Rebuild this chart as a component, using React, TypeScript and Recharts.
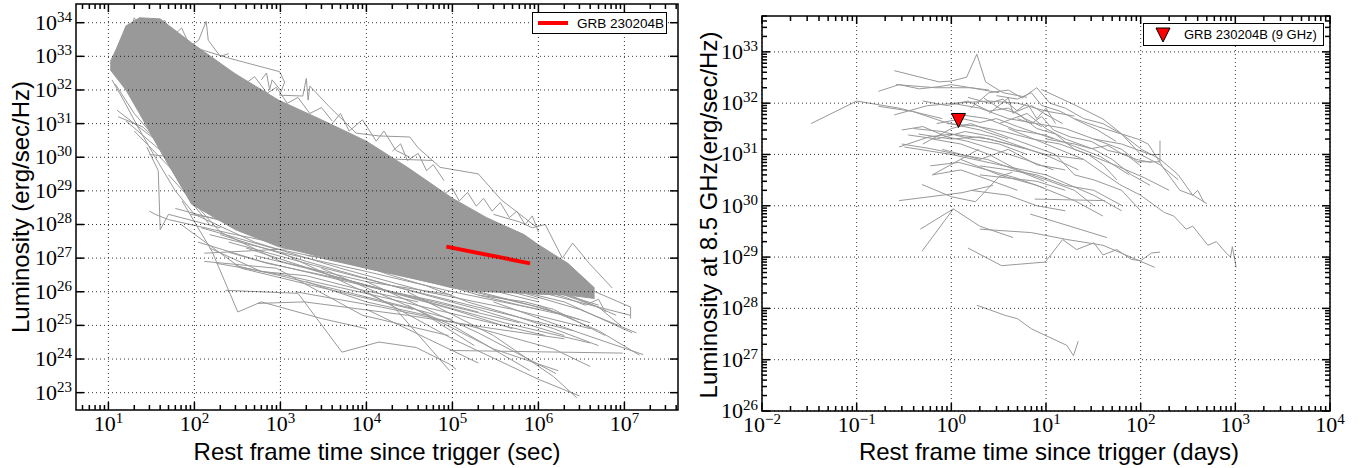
import React from 'react';
import {
  ComposedChart,
  Line,
  Area,
  Scatter,
  XAxis,
  YAxis,
  ReferenceLine,
  ReferenceArea,
  Legend,
} from 'recharts';

const GRAY = '#999999';
const SERIF = '"Liberation Serif", "DejaVu Serif", serif';
const SANS = '"Liberation Sans", Arial, sans-serif';

// ---------- left panel: X-ray light curves (rest frame, sec) ----------
// the dense part of the sample, drawn as one band (lower / upper edge)
const xrayCoreTime = [10.5, 16, 23, 40, 93, 300, 950, 3e3, 1e4, 3e4, 1e5, 2.5e5, 6.8e5, 1e6, 2.2e6, 4.5e6];
const xrayCoreHigh = [6e32, 8e33, 1.4e34, 1.3e34, 2.5e33, 3e32, 5e31, 1.3e31, 3e30, 5e29, 6e28, 1.6e28, 5e27, 2.5e27, 7e26, 1.3e26];
const xrayCoreLow = [4e32, 1e32, 2e31, 1.6e30, 4e28, 7e27, 2.2e27, 1.1e27, 5e26, 2.8e26, 1.3e26, 1e26, 9e25, 8.5e25, 8e25, 6.3e25];

// individual curves sticking out of the band: [t (s), L]
const xrayCurves: number[][][] = [
  [[18, 5e33], [20, 1.4e34], [24, 6e33], [28, 1.3e34], [35, 5e33], [45, 1.2e34], [56, 4e33], [71, 7e33], [89, 2e33], [112, 3e33], [137, 1.1e34], [145, 3e33], [200, 1e33], [250, 1.2e33]],
  [[95, 1.9e33], [257, 8.7e32], [980, 3.5e32], [1120, 1.7e32], [980, 7e31], [1820, 6.6e31], [2000, 2.2e32], [2100, 5e31], [2200, 1.3e32], [3700, 3.2e31], [7600, 5.2e30], [1.4e4, 4.3e30], [3.2e4, 4e30], [4e4, 1.9e30], [7.2e4, 5e29], [2e5, 3.2e29], [3.7e5, 5.4e28], [9.3e5, 8.7e27]],
  [[600, 2e32], [690, 3.2e32], [750, 1e32], [800, 2e32], [1000, 1e32]],
  [[300, 3e32], [400, 1.6e32], [500, 2.5e32], [700, 8e31], [900, 1.2e32], [1.2e3, 4e31], [1.6e3, 6e31], [2.2e3, 2e31], [3e3, 3e31], [4e3, 1.2e31]],
  [[9e3, 9.5e29], [6e4, 8e29]],
  [[8e4, 8e28], [1e5, 1.2e29], [1.2e5, 5e28], [1.5e5, 9e28], [1.9e5, 3.5e28], [2.3e5, 6e28], [2.9e5, 2.5e28], [3.6e5, 4.5e28], [4.6e5, 1.6e28], [5.6e5, 2.5e28], [7e5, 1e28], [8.5e5, 1.8e28], [1e6, 6e27]],
  [[4e3, 1e31], [5e3, 2e31], [6.3e3, 6e30], [9e3, 1.3e31], [1.3e4, 3e30], [1.6e4, 6e30], [2.2e4, 1.6e30], [3.2e4, 1e30]],
  [[2e4, 1.5e30], [2.5e4, 2.5e30], [3e4, 8e29], [4e4, 1.3e30], [5e4, 4e29], [6e4, 6e29], [8e4, 2e29]],
  [[3e5, 2e28], [6e5, 1.2e28], [8.5e5, 8e27], [1.2e6, 1e28], [1.9e6, 1e27], [2.5e6, 2.8e27], [3.9e6, 7e26], [7.2e6, 1.3e26]],
  [[1e6, 5e26], [3e6, 1.6e26], [1.18e7, 3.5e25], [1.18e7, 1.6e25]],
  [[3e5, 1.6e26], [2e6, 5e25], [1.23e7, 6e24]],
  [[1e6, 4e25], [5e6, 7e24], [1.5e7, 1.3e24]],
  [[9.3e4, 1.8e24], [9.5e6, 1.5e24]],
  [[3e4, 1e26], [3e5, 5e24], [1.5e6, 3e23], [2.8e6, 7e22]],
  [[1e4, 2e26], [2e5, 6e24], [1.6e6, 3.7e23]],
  [[3e3, 5e26], [1e5, 1e25], [8e5, 4.5e23]],
  [[1e3, 1.5e27], [2e4, 4e25], [9.3e4, 4.5e23]],
  [[230, 1.1e26], [1.6e3, 9e25], [5.2e3, 1.6e24], [1.4e4, 3.2e24], [3.8e4, 2.2e24], [9.3e4, 7e23], [1.1e5, 5e23]],
  [[540, 4.5e25], [1.9e3, 5e25], [3e4, 2e25], [3e5, 8e24], [2e6, 4e24]],
  [[130, 1.4e27], [1.9e3, 2e27], [1e4, 1e27], [1e5, 2e26]],
  [[72, 5e28], [160, 1.6e27], [320, 2.5e25], [600, 5e25], [3e3, 1.6e25], [1e4, 8e24]],
  [[28, 2e30], [38, 4e29], [40, 7e27], [50, 2e28], [200, 8e27]],
  [[30, 2.5e28], [35, 2e28], [50, 1.4e28], [300, 5e27], [3e3, 1.5e27]],
  [[12.6, 2.5e31], [32, 4e30], [100, 4e29], [1e3, 3e28]],
  [[16, 1.2e31], [50, 1e30], [300, 8e28]],
  [[20, 6e30], [63, 3e29], [200, 3e28]],
  [[30, 1.2e30], [63, 1e30], [100, 5e29]],
  [[50, 3e29], [200, 6e27], [1e3, 8e26], [1e4, 2e26], [1e5, 8e25]],
  [[3e5, 5e25], [3e6, 6e24], [1.66e7, 1.35e24]],
  [[6e5, 1e26], [3e6, 3e25], [1.38e7, 6e24]],
  [[1e5, 4e26], [1e6, 1e26], [1.17e7, 2e25]],
  [[3e4, 4e25], [3e5, 2e24], [1.7e6, 4.5e23]],
  [[1e4, 1e26], [1e5, 4e24], [1e6, 2.5e23], [3e6, 8e22]],
  [[1e4, 3e25], [2e5, 7.6e23]],
  [[2e3, 2e26], [1e4, 5e25], [5e4, 2e25], [1.8e5, 2.5e24]],
  [[10.5, 7e32], [14, 3e33], [18, 8e33]],
  [[1e6, 2e26], [3e6, 6e25], [8e6, 2e25]],
  [[5e5, 3e26], [2e6, 8e25], [5e6, 3.5e25], [9e6, 1e25]],
  [[100, 1e29], [1e3, 1e28], [1e4, 1.5e27], [1e5, 3e26], [1e6, 6e25]],
  [[60, 3e28], [300, 1e28], [3e3, 2e27], [3e4, 5e26]],
  [[13, 1.6e31], [25, 8e30], [45, 2e30]],
  [[100, 2e28], [500, 3e27], [5e3, 5e26], [5e4, 1e26], [5e5, 3e25], [4e6, 8e24]],
  [[200, 5e27], [2e3, 8e26], [2e4, 1.5e26], [2e5, 3e25], [2e6, 5e24]],
  [[150, 5e27], [1e3, 1.5e27], [1e4, 4e26], [1e5, 1e26], [1e6, 3e25]],
  [[120, 8e27], [800, 2e27], [8e3, 6e26], [8e4, 1.6e26], [8e5, 4e25], [3e6, 1.5e25]],
  [[250, 3e27], [2.5e3, 6e26], [2.5e4, 1.3e26], [2.5e5, 3e25], [2.5e6, 7e24]],
  [[400, 2e27], [4e3, 3e26], [4e4, 6e25], [4e5, 1.2e25], [4e6, 3e24]],
  [[90, 2e28], [500, 1e28], [5e3, 3e27], [5e4, 1e27], [5e5, 2.5e26], [5e6, 4e25]],
  [[110, 3e27], [600, 8e26], [6e3, 2e26], [6e4, 5e25], [6e5, 1.2e25]],
  [[180, 7e26], [1.2e3, 3e26], [1.2e4, 8e25], [1.2e5, 2e25], [1.2e6, 5e24]],
  [[70, 1e28], [350, 5e26], [3.5e3, 1.2e26], [3.5e4, 3e25]],
  [[1.5e3, 1e26], [1.5e4, 3.5e25], [1.5e5, 1e25], [1.5e6, 2e24], [4e6, 6e23]],
  [[130, 8e26], [900, 5e26], [9e3, 2e25], [9e4, 5e24]],
  [[2e5, 8e25], [7e5, 5e25], [1.5e6, 3e25], [3e6, 1.2e25], [6e6, 5e24]],
  [[4e5, 1.5e26], [1e6, 1.2e26], [2e6, 7e25], [3.5e6, 4e25], [5e6, 6e25], [6e6, 2.5e25]],
  [[11, 2e32], [15, 5e31], [22, 8e30], [35, 1e30], [60, 1e29], [100, 2e28]],
  [[12, 1.5e32], [20, 2e31], [30, 6e30], [50, 6e29], [90, 5e28], [150, 1e28]],
  [[250, 1.5e27], [700, 7e26], [2e3, 4e26], [7e3, 2e26], [2e4, 1e26], [7e4, 5e25], [2e5, 2.5e25]],
  [[300, 6e26], [1e3, 3e26], [3e3, 1.5e26], [1e4, 7e25], [3e4, 3.5e25], [1e5, 1.5e25]],
  [[500, 1.2e27], [2e3, 5e26], [8e3, 1.8e26], [3e4, 7e25], [1e5, 3e25], [5e5, 8e24]],
  [[150, 2e27], [600, 4e26], [2e3, 3e26], [8e3, 1.2e26], [4e4, 5e25]],
  [[700, 4e27], [3e3, 1e27], [1e4, 5e26], [5e4, 2e26], [2e5, 1e26], [1e6, 3.5e25], [4e6, 1.2e25]],
  [[2e3, 1.2e27], [6e3, 8e26], [2e4, 4e26], [6e4, 2e26], [2e5, 8e25], [6e5, 4e25], [2e6, 2e25]],
  [[5e3, 1e27], [2e4, 3e26], [5e4, 1.5e26], [1.5e5, 5e25], [5e5, 2e25], [1.5e6, 8e24], [5e6, 2.5e24]],
  [[1e3, 6e27], [4e3, 2e27], [1.5e4, 8e26], [6e4, 3e26], [2.5e5, 1.2e26], [1e6, 5e25]],
];

const grbXray = [[8.5e4, 2.2e27], [8e5, 7e26]];

// ---------- right panel: 8.5 GHz radio light curves (rest frame, days) ----------
const radioCurves: number[][][] = [
  [[0.033, 4e31], [0.1, 1.1e32], [0.28, 8e31], [0.8, 5e31]],
  [[0.25, 4.3e32], [0.74, 2.6e32], [1, 2.7e32], [1.45, 3.2e32], [1.86, 9e32], [2.3, 2.6e32], [3.5, 1.6e32], [6.3, 1.3e32]],
  [[0.26, 2.3e32], [0.68, 2e32], [1.6, 2e32], [3.2, 1.6e32]],
  [[0.25, 5.9e31], [0.55, 8.9e31], [1.1, 1e32], [2.5, 1.1e32], [5, 1e32], [10, 7e31], [20, 5.6e31]],
  [[0.45, 2.5e31], [1, 2e31], [2, 2.2e31], [4, 1.6e31], [10, 1e31], [25, 8e30]],
  [[0.28, 1.26e30], [1.3, 1.8e30], [2.75, 2.5e30]],
  [[0.47, 3.5e29], [1.05, 8.7e29], [2, 4e29], [4.5, 2.4e29]],
  [[0.49, 1.3e29], [1.05, 8.7e29]],
  [[1.5, 1.5e29], [3.4, 6.8e28], [9.8, 8e28], [15, 2.2e29], [21, 1.4e29], [32, 1.9e29], [40, 1.1e29], [56, 1.4e29], [80, 9e28], [100, 8.5e28], [130, 1.2e29], [160, 1.25e29]],
  [[2, 3.5e29], [7, 3e29], [16.6, 2.2e29], [40, 1.7e29], [141, 6.3e28]],
  [[6.8, 6.9e29], [44, 2.4e29]],
  [[7.6, 1.35e30], [42, 1.26e30]],
  [[1.86, 1.15e28], [3.8, 7.2e27], [5, 6.3e27], [7, 4e27], [16.6, 1.9e27], [19.5, 1.2e27], [21.9, 2.3e27]],
  [[4, 3.2e31], [10, 1.6e31], [25, 8e30], [60, 2.6e30], [100, 1.6e30], [178, 7.4e29], [224, 6.3e29], [302, 3.5e29], [355, 4e29], [513, 1.7e29], [630, 2e29], [800, 1.2e29], [890, 1e29], [930, 1.6e29], [1020, 6.3e28]],
  [[20, 5e31], [35, 3.5e31], [63, 2.5e31], [93, 2e31], [120, 1.6e31], [180, 5e30], [260, 2e30], [360, 1.6e30], [500, 1.1e30]],
  [[32, 2e31], [63, 1.26e31], [93, 7.2e30], [160, 7.2e30], [160, 1.86e31]],
  [[8.9, 1.86e32], [21, 8.9e31], [40, 4.9e31], [60, 2.7e31], [102, 1.26e31], [160, 8.1e30], [250, 4e30], [355, 1.6e30], [400, 2e30], [470, 1.15e30]],
  [[1.6, 8e31], [2.5, 1.6e32], [4, 1.8e32], [5.6, 1.26e32], [8, 2e32], [11, 1e32], [16, 8e31], [25, 5e31], [40, 4e31], [63, 2.5e31], [100, 1e31], [160, 6.3e30], [250, 3.2e30]],
  [[0.5, 1.6e31], [1, 3.2e31], [1.6, 4e31], [3.2, 2.5e31], [6.3, 1.6e31], [12.6, 1e31], [20, 4e30], [32, 3.2e30], [63, 2e30], [100, 8e29]],
  [[0.32, 1.4e31], [1, 1e31], [3.2, 6.3e30], [10, 4e30], [32, 1.6e30], [63, 8e29]],
  [[1.26, 8e30], [3.2, 4e30], [8, 2.5e30], [20, 1.26e30], [40, 6.3e29]],
  [[0.63, 4e30], [1.26, 5e30], [2.5, 3.2e30], [5, 2e30]],
  [[3.2, 4e31], [6.3, 6.3e31], [10, 3.2e31], [16, 2e31], [32, 1.26e31], [50, 8e30], [80, 4e30], [126, 2.5e30]],
  [[1, 1e32], [2, 8e31], [4, 5e31], [8, 4e31], [16, 3.2e31], [32, 2e31], [63, 1.6e31], [126, 1e31], [160, 1e31]],
  [[0.8, 1.26e31], [2, 8e30], [4, 1.26e31], [8, 6.3e30], [16, 5e30]],
  [[2.5, 6.3e31], [4, 1.26e32], [4.5, 6.3e31], [6.3, 1e32], [8, 5e31], [10, 8e31], [12.6, 4e31]],
  [[0.4, 3.2e31], [0.8, 2.8e31], [1.6, 2e31], [3.2, 1.6e31], [6.3, 1e31]],
  [[1.6, 2e30], [4, 1.6e30], [8, 1e30], [16, 8e29]],
  [[0.63, 2e31], [1.26, 1.6e31], [2.5, 1e31], [5, 5e30], [10, 3.2e30], [20, 2e30], [32, 1e30]],
  [[2.2, 1.26e32], [3.2, 8e31], [5, 6.3e31], [8, 3.2e31], [12.6, 2.5e31], [20, 1.26e31], [28, 1e31], [40, 6.3e30], [56, 3.2e30]],
  [[0.17, 1.7e32], [0.28, 2.3e32], [0.46, 1.9e32], [0.74, 2.1e32], [1, 2.3e32], [1.6, 2e32], [2.5, 1.8e32]],
  [[0.17, 8.7e31], [0.39, 6.9e31], [0.87, 4.2e31], [2, 3e31], [4, 2e31]],
  [[0.28, 1.4e31], [0.58, 2.2e31], [1, 2.5e31], [2.5, 2e31], [6, 1.3e31]],
  [[0.49, 2.6e30], [1, 1.5e30], [1.8, 1.2e30], [3.2, 3.7e30], [4.4, 4.5e30]],
  [[0.63, 4e30], [1.95, 1.26e31]],
  [[2, 4e30], [8, 3e30], [16, 2e30]],
  [[0.3, 1.6e31], [0.6, 1.3e31], [1.2, 1e31], [2.4, 8e30], [4.8, 5e30], [9.6, 3e30]],
  [[0.35, 2.4e31], [0.7, 2e31], [1.4, 2.8e31], [2.8, 2.2e31], [5.6, 1.4e31], [11, 9e30], [22, 5e30]],
  [[1.2, 6e31], [2.4, 5e31], [4.8, 3e31], [9.6, 2.4e31], [19, 1.5e31], [38, 9e30], [76, 4e30]],
  [[3, 1.4e32], [5, 1.2e32], [7, 1.6e32], [9, 9e31], [14, 7e31], [22, 4.5e31], [35, 3e31], [55, 1.8e31]],
  [[0.9, 4e31], [1.8, 3.6e31], [3.6, 2.8e31], [7.2, 2e31], [14, 1.6e31], [28, 1e31], [56, 6e30], [110, 3.5e30], [200, 2e30]],
  [[5, 5e31], [7, 4e31], [9, 5.5e31], [12, 3e31], [18, 2.2e31], [30, 1.8e31], [45, 1.2e31], [70, 1e31], [100, 6e30]],
  [[0.6, 6e30], [1.2, 7e30], [2.4, 5e30], [4.8, 3.5e30], [9.6, 2.2e30]],
  [[2, 6e30], [4, 5e30], [8, 4e30], [16, 2.5e30], [32, 2e30], [64, 1e30]],
  [[10, 2e31], [20, 1.6e31], [30, 1.3e31], [45, 1.5e31], [65, 1e31], [90, 8e30], [130, 7e30]],
  [[1.5, 1.3e32], [2.5, 1e32], [3.5, 1.2e32], [5, 7e31], [7, 9e31], [10, 6e31], [15, 4e31]],
  [[0.5, 1.1e32], [0.9, 9e31], [1.5, 1.1e32], [2.5, 7e31], [4, 8e31], [6, 5e31], [9, 3.5e31]],
  [[0.7, 4e31], [1.3, 5e31], [2, 4.2e31], [3, 5e31], [5, 3.5e31], [8, 2.6e31], [12, 2e31]],
  [[0.3, 3e31], [0.5, 3.5e31], [0.9, 2.2e31], [1.5, 1.8e31], [3, 1.2e31], [6, 8e30], [12, 5e30]],
];

const grbRadio = [[1.19, 4.6e31]];

// axis decades
const xrayTimeDecades = [1e1, 1e2, 1e3, 1e4, 1e5, 1e6, 1e7];
const xrayLumDecades = [1e23, 1e24, 1e25, 1e26, 1e27, 1e28, 1e29, 1e30, 1e31, 1e32, 1e33, 1e34];
const radioTimeDecades = [1e-2, 1e-1, 1e0, 1e1, 1e2, 1e3, 1e4];
const radioLumDecades = [1e26, 1e27, 1e28, 1e29, 1e30, 1e31, 1e32, 1e33];

// ---------- helpers ----------
const pts = (c: number[][]) => c.map(([t, l]) => ({ t, l }));

const logExp = (v: number) => Math.round(Math.log10(v));
const isDecade = (v: number) => Math.abs(Math.log10(v) - logExp(v)) < 1e-6;

// 1..9 x 10^n ticks inside [lo, hi]
const withMinors = (lo: number, hi: number) => {
  const out: number[] = [];
  for (let e = Math.floor(Math.log10(lo)); e <= Math.ceil(Math.log10(hi)); e++) {
    for (let m = 1; m < 10; m++) {
      const v = m * Math.pow(10, e);
      if (v >= lo * 0.9999 && v <= hi * 1.0001) out.push(v);
    }
  }
  return out;
};

type Box = { top: number; bottom: number; left: number; right: number };

function Pow({ x, y, v, anchor }: { x: number; y: number; v: number; anchor: 'middle' | 'end' }) {
  const e = logExp(v);
  return (
    <text x={x} y={y} textAnchor={anchor} fontFamily={SERIF} fontSize={22} fill="#000">
      10
      <tspan dy={-8} fontSize={15}>
        {e < 0 ? '\u2212' + -e : String(e)}
      </tspan>
    </text>
  );
}

const TICK = { stroke: '#000', strokeWidth: 1.5 };

const xTick = (b: Box) => (p: any) => {
  const v = p.payload.value;
  const x = p.x;
  const major = isDecade(v);
  const len = major ? 8 : 5;
  return (
    <g>
      <line x1={x} x2={x} y1={b.bottom} y2={b.bottom - len} {...TICK} />
      <line x1={x} x2={x} y1={b.top} y2={b.top + len} {...TICK} />
      {major && <Pow x={x} y={b.bottom + 21} v={v} anchor="middle" />}
    </g>
  );
};

const yTick = (b: Box) => (p: any) => {
  const v = p.payload.value;
  const y = p.y;
  const major = isDecade(v);
  const len = major ? 8 : 5;
  return (
    <g>
      <line x1={b.left} x2={b.left + len} y1={y} y2={y} {...TICK} />
      <line x1={b.right} x2={b.right - len} y1={y} y2={y} {...TICK} />
      {major && <Pow x={b.left - 4} y={y + 7} v={v} anchor="end" />}
    </g>
  );
};

const gridLine = { stroke: '#000', strokeWidth: 0.8, strokeDasharray: '1 3' };

// ---------- left chart ----------
const LBOX: Box = { top: 4, bottom: 410, left: 76, right: 678 };
const LX: [number, number] = [4.2, 4.2e7];
const LY: [number, number] = [3.05e22, 3.6e34];

function XrayPanel() {
  const core = xrayCoreTime.map((t, i) => ({ t, band: [xrayCoreLow[i], xrayCoreHigh[i]] }));
  return (
    <ComposedChart width={680} height={468} margin={{ top: 4, right: 2, bottom: 0, left: 0 }}>
      <XAxis
        dataKey="t"
        type="number"
        scale="log"
        domain={LX}
        allowDataOverflow
        ticks={withMinors(LX[0], LX[1])}
        interval={0}
        height={58}
        axisLine={false}
        tickLine={false}
        tick={xTick(LBOX)}
        label={{
          content: () => (
            <text x={377} y={460} textAnchor="middle" fontFamily={SANS} fontSize={24} fill="#000">
              Rest frame time since trigger (sec)
            </text>
          ),
        }}
      />
      <YAxis
        type="number"
        scale="log"
        domain={LY}
        allowDataOverflow
        ticks={xrayLumDecades}
        interval={0}
        width={76}
        axisLine={false}
        tickLine={false}
        tick={yTick(LBOX)}
        label={{
          content: () => (
            <text
              x={29}
              y={207}
              transform="rotate(-90 29 207)"
              textAnchor="middle"
              fontFamily={SANS}
              fontSize={24}
              fill="#000"
            >
              Luminosity (erg/sec/Hz)
            </text>
          ),
        }}
      />
      <Area
        data={core}
        dataKey="band"
        type="linear"
        stroke={GRAY}
        strokeWidth={1}
        fill={GRAY}
        fillOpacity={1}
        isAnimationActive={false}
        legendType="none"
      />
      {xrayCurves.map((c, i) => (
        <Line
          key={'x' + i}
          data={pts(c)}
          dataKey="l"
          type="linear"
          stroke={GRAY}
          strokeWidth={1}
          dot={false}
          isAnimationActive={false}
          legendType="none"
        />
      ))}
      <Line
        data={pts(grbXray)}
        dataKey="l"
        name="GRB 230204B"
        type="linear"
        stroke="#ff0000"
        strokeWidth={4}
        dot={false}
        isAnimationActive={false}
      />
      {xrayTimeDecades.map((v) => (
        <ReferenceLine key={'gx' + v} x={v} {...gridLine} />
      ))}
      {xrayLumDecades.map((v) => (
        <ReferenceLine key={'gy' + v} y={v} {...gridLine} />
      ))}
      <ReferenceArea x1={LX[0]} x2={LX[1]} y1={LY[0]} y2={LY[1]} fill="none" stroke="#000" strokeWidth={1.5} ifOverflow="visible" />
      <Legend
        layout="horizontal"
        verticalAlign="middle"
        align="center"
        wrapperStyle={{ position: 'absolute', left: 532, top: 12, width: 135, height: 22 }}
        content={() => (
          <div
            style={{
              boxSizing: 'border-box',
              width: 135,
              height: 22,
              border: '1px solid #000',
              background: '#fff',
              display: 'flex',
              alignItems: 'center',
              whiteSpace: 'nowrap',
              fontFamily: SANS,
              fontSize: 13.5,
              color: '#000',
            }}
          >
            <svg width={44} height={20}>
              <line x1={5} x2={35} y1={10} y2={10} stroke="#ff0000" strokeWidth={4} />
            </svg>
            <span>GRB 230204B</span>
          </div>
        )}
      />
    </ComposedChart>
  );
}

// ---------- right chart ----------
const RBOX: Box = { top: 16, bottom: 411, left: 82, right: 650 };
const RX: [number, number] = [1e-2, 1e4];
const RY: [number, number] = [1e26, 5e33];

const DownTriangle = (p: any) => {
  const { cx, cy } = p;
  return (
    <polygon
      points={`${cx - 7},${cy - 7} ${cx + 7},${cy - 7} ${cx},${cy + 7}`}
      fill="#ff0000"
      stroke="#000"
      strokeWidth={1}
    />
  );
};

function RadioPanel() {
  return (
    <ComposedChart width={689} height={468} margin={{ top: 16, right: 39, bottom: 0, left: 0 }}>
      <XAxis
        dataKey="t"
        type="number"
        scale="log"
        domain={RX}
        allowDataOverflow
        ticks={withMinors(RX[0], RX[1])}
        interval={0}
        height={57}
        axisLine={false}
        tickLine={false}
        tick={xTick(RBOX)}
        label={{
          content: () => (
            <text x={369} y={460} textAnchor="middle" fontFamily={SANS} fontSize={24} fill="#000">
              Rest frame time since trigger (days)
            </text>
          ),
        }}
      />
      <YAxis
        dataKey="l"
        type="number"
        scale="log"
        domain={RY}
        allowDataOverflow
        ticks={withMinors(RY[0], RY[1])}
        interval={0}
        width={82}
        axisLine={false}
        tickLine={false}
        tick={yTick(RBOX)}
        label={{
          content: () => (
            <text
              x={37}
              y={215}
              transform="rotate(-90 37 215)"
              textAnchor="middle"
              fontFamily={SANS}
              fontSize={24}
              fill="#000"
            >
              Luminosity at 8.5 GHz(erg/sec/Hz)
            </text>
          ),
        }}
      />
      {radioCurves.map((c, i) => (
        <Line
          key={'r' + i}
          data={pts(c)}
          dataKey="l"
          type="linear"
          stroke={GRAY}
          strokeWidth={1}
          dot={false}
          isAnimationActive={false}
          legendType="none"
        />
      ))}
      {radioTimeDecades.map((v) => (
        <ReferenceLine key={'gx' + v} x={v} {...gridLine} />
      ))}
      {radioLumDecades.map((v) => (
        <ReferenceLine key={'gy' + v} y={v} {...gridLine} />
      ))}
      <Scatter
        data={pts(grbRadio)}
        dataKey="l"
        name="GRB 230204B (9 GHz)"
        fill="#ff0000"
        shape={DownTriangle}
        isAnimationActive={false}
      />
      <ReferenceArea x1={RX[0]} x2={RX[1]} y1={RY[0]} y2={RY[1]} fill="none" stroke="#000" strokeWidth={1.5} ifOverflow="visible" />
      <Legend
        layout="horizontal"
        verticalAlign="middle"
        align="center"
        wrapperStyle={{ position: 'absolute', left: 463, top: 23, width: 181, height: 23 }}
        content={() => (
          <div
            style={{
              boxSizing: 'border-box',
              width: 181,
              height: 23,
              border: '1px solid #000',
              background: '#fff',
              display: 'flex',
              alignItems: 'center',
              whiteSpace: 'nowrap',
              fontFamily: SANS,
              fontSize: 13,
              color: '#000',
            }}
          >
            <svg width={40} height={21} style={{ flexShrink: 0 }}>
              <polygon points="12,4 26,4 19,18" fill="#ff0000" stroke="#000" strokeWidth={1} />
            </svg>
            <span>GRB 230204B (9 GHz)</span>
          </div>
        )}
      />
    </ComposedChart>
  );
}

export default function App() {
  return (
    <div style={{ position: 'absolute', left: 0, top: 0, width: 1369, height: 468, background: '#fff' }}>
      <div style={{ position: 'absolute', left: 0, top: 0 }}>
        <XrayPanel />
      </div>
      <div style={{ position: 'absolute', left: 680, top: 0 }}>
        <RadioPanel />
      </div>
    </div>
  );
}
